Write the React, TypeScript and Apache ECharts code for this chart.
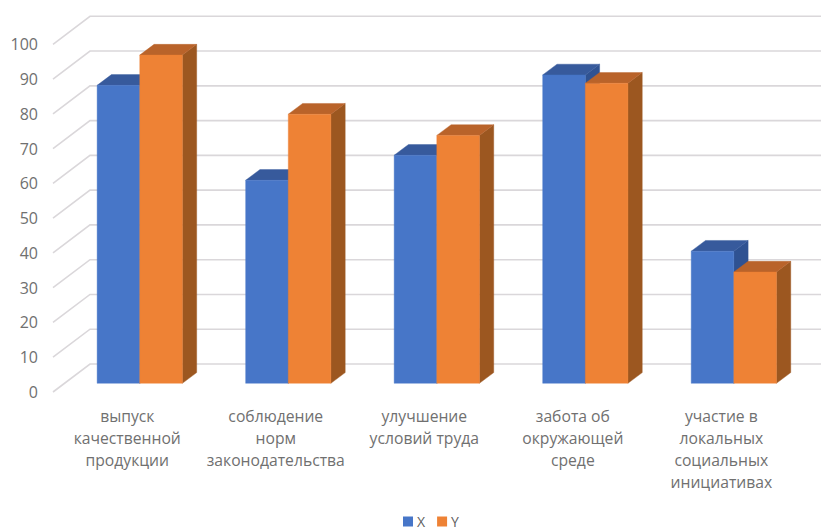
import React, { useEffect, useRef } from "react";
import * as echarts from "echarts";

const categories = [
  "выпуск\nкачественной\nпродукции",
  "соблюдение\nнорм\nзаконодательства",
  "улучшение\nусловий труда",
  "забота об\nокружающей\nсреде",
  "участие в\nлокальных\nсоциальных\nинициативах",
];
const seriesX = [85.7, 58.4, 65.6, 88.7, 38];
const seriesY = [94.4, 77.4, 71.3, 86.3, 32];
const yTicks = [0, 10, 20, 30, 40, 50, 60, 70, 80, 90, 100];

const FONT = '"Open Sans", sans-serif';
const TEXT_COLOR = "#707070";

// Oblique projection: the wall sits one full depth behind the axis plane,
// and the columns stand part of the way back on the floor.
const DEPTH_X = 37;
const DEPTH_Y = -28;
const COLUMN_FRONT_X = 12.5;
const COLUMN_FRONT_Y = -8.7;
const COLUMN_DEPTH_X = 14.3;
const COLUMN_DEPTH_Y = -10.7;
const COLUMN_BAND_RATIO = 0.287;

const blueFaces = { front: "#4776C8", top: "#375A9C", side: "#2F5292" };
const orangeFaces = { front: "#EE8235", top: "#B9632A", side: "#9C5720" };

type Faces = typeof blueFaces;

function columnRenderer(faces: Faces, slot: number) {
  return (_params: any, api: any) => {
    const top = api.coord([api.value(0), api.value(1)]);
    const base = api.coord([api.value(0), 0]);
    const width = api.size([1, 0])[0] * COLUMN_BAND_RATIO;
    const x0 = top[0] + COLUMN_FRONT_X + (slot - 1) * width;
    const x1 = x0 + width;
    const yTop = top[1] + COLUMN_FRONT_Y;
    const yBase = base[1] + COLUMN_FRONT_Y;
    const dx = COLUMN_DEPTH_X;
    const dy = COLUMN_DEPTH_Y;
    const face = (points: number[][], fill: string) => ({
      type: "polygon",
      shape: { points },
      style: { fill, stroke: fill, lineWidth: 0.4 },
    });
    return {
      type: "group",
      children: [
        face(
          [
            [x1, yTop],
            [x1 + dx, yTop + dy],
            [x1 + dx, yBase + dy],
            [x1, yBase],
          ],
          faces.side,
        ),
        face(
          [
            [x0, yTop],
            [x0 + dx, yTop + dy],
            [x1 + dx, yTop + dy],
            [x1, yTop],
          ],
          faces.top,
        ),
        face(
          [
            [x0, yTop],
            [x1, yTop],
            [x1, yBase],
            [x0, yBase],
          ],
          faces.front,
        ),
      ],
    };
  };
}

function gridLineRenderer(params: any, api: any) {
  const y = api.coord([0, api.value(1)])[1];
  const sys = params.coordSys;
  return {
    type: "polyline",
    shape: {
      points: [
        [sys.x, y],
        [sys.x + DEPTH_X, y + DEPTH_Y],
        [sys.x + sys.width + DEPTH_X, y + DEPTH_Y],
      ],
    },
    style: { fill: "none", stroke: "#DAD7DA", lineWidth: 1.6 },
  };
}

export default function App() {
  const ref = useRef<HTMLDivElement>(null);

  useEffect(() => {
    if (!ref.current) return;
    const chart = echarts.init(ref.current, undefined, { renderer: "svg" });
    chart.setOption({
      animation: false,
      backgroundColor: "#FFFFFF",
      textStyle: { fontFamily: FONT },
      grid: { left: 53, right: 25.4, top: 44.3, bottom: 139 },
      legend: {
        data: [
          { name: "X", itemStyle: { color: blueFaces.front } },
          { name: "Y", itemStyle: { color: orangeFaces.front } },
        ],
        left: 403,
        top: 514.5,
        icon: "rect",
        itemWidth: 10,
        itemHeight: 10,
        itemGap: 12,
        padding: 0,
        selectedMode: false,
        textStyle: {
          color: "#606060",
          fontSize: 14,
          fontFamily: FONT,
          padding: [0, 0, 0, -1],
        },
      },
      xAxis: {
        type: "category",
        data: categories,
        axisLine: { show: false },
        axisTick: { show: false },
        splitLine: { show: false },
        axisLabel: {
          interval: 0,
          margin: 13,
          color: TEXT_COLOR,
          fontFamily: FONT,
          fontSize: 15.7,
          lineHeight: 22,
        },
      },
      yAxis: {
        type: "value",
        min: 0,
        max: 100,
        interval: 10,
        axisLine: { show: false },
        axisTick: { show: false },
        splitLine: { show: false },
        axisLabel: {
          margin: 15,
          color: TEXT_COLOR,
          fontFamily: FONT,
          fontSize: 16,
        },
      },
      series: [
        {
          name: "Сетка",
          type: "custom",
          silent: true,
          z: 1,
          renderItem: gridLineRenderer,
          data: yTicks.map((tick) => [0, tick]),
        },
        {
          name: "X",
          type: "custom",
          z: 2,
          itemStyle: { color: blueFaces.front },
          renderItem: columnRenderer(blueFaces, 0),
          data: seriesX.map((value, i) => [i, value]),
        },
        {
          name: "Y",
          type: "custom",
          z: 3,
          itemStyle: { color: orangeFaces.front },
          renderItem: columnRenderer(orangeFaces, 1),
          data: seriesY.map((value, i) => [i, value]),
        },
      ],
    });
    return () => chart.dispose();
  }, []);

  return (
    <div
      ref={ref}
      style={{ position: "absolute", left: 0, top: 0, width: 821, height: 531, overflow: "hidden" }}
    />
  );
}
